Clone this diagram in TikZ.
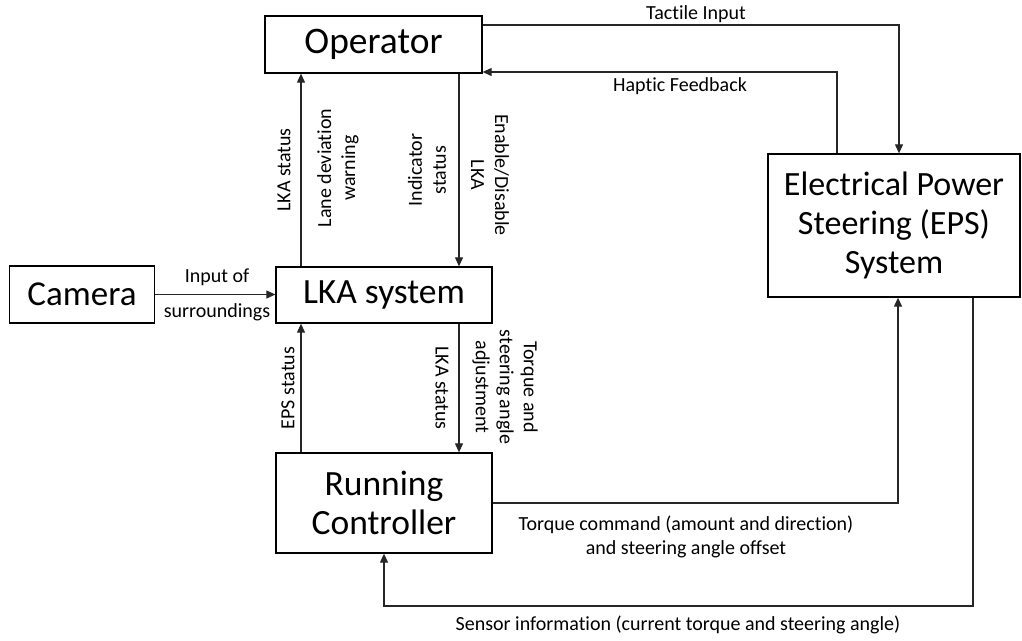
\documentclass[tikz,border=0pt]{standalone}
\usepackage{fontspec}
\setmainfont{Carlito}[Ligatures={NoCommon}]
\usetikzlibrary{arrows.meta}
\tikzset{
  blk/.style={draw=black, line width=1.3pt, rectangle, inner sep=0pt, align=center,
    font=\fontsize{35.5}{39.5}\selectfont},
  lbl/.style={inner sep=0pt, align=center, font=\fontsize{20}{24}\selectfont},
  arr/.style={draw=black!85, line width=1.1pt, -{Triangle[length=9pt,width=8pt]}},
  ln/.style={draw=black!85, line width=1.1pt}
}
\begin{document}
\begin{tikzpicture}[x=1pt,y=-1pt]
\useasboundingbox (0,0) rectangle (1022,640);
% blocks
\node[blk, minimum width=217pt, minimum height=57pt, font=\fontsize{37.5}{40}\selectfont] (op) at (373.5,44.5) {Operator};
\node[blk, minimum width=145pt, minimum height=57pt, font=\fontsize{35}{40}\selectfont] (cam) at (82,294.5) {Camera};
\node[blk, minimum width=216pt, minimum height=56pt] (lka) at (384,295) {LKA system};
\node[blk, minimum width=216pt, minimum height=100pt] (rc) at (384,503) {Running\\Controller};
\node[blk, minimum width=252pt, minimum height=143pt, font=\fontsize{34}{39}\selectfont] (eps) at (894,225.5) {Electrical Power\\Steering (EPS)\\System};
% helper coordinates
\coordinate (tac) at (899,25);
\coordinate (hap) at (837,72);
\coordinate (xl) at (301,0);
\coordinate (xr) at (459,0);
\coordinate (tq) at (898,0);
\coordinate (sen) at (973,0);
\coordinate (sb) at (384,606);
% connectors
\draw[arr] (op.east |- tac) -| (eps.north -| tac);
\draw[arr] (eps.north -| hap) |- (op.east |- hap);
\draw[arr] (lka.north -| xl) -- (op.south -| xl);
\draw[arr] (op.south -| xr) -- (lka.north -| xr);
\draw[arr] (cam.east) -- (lka.west |- cam.east);
\draw[arr] (rc.north -| xl) -- (lka.south -| xl);
\draw[arr] (lka.south -| xr) -- (rc.north -| xr);
\draw[arr] (rc.east) -| (eps.south -| tq);
\draw[arr] (eps.south -| sen) |- (sb) -- (rc.south -| sb);
% labels
\node[lbl] (ltac) at (696,14) {Tactile Input};
\node[lbl] (lhap) at (680,86) {Haptic Feedback};
\node[lbl] (lin1) at (217,277) {Input of};
\node[lbl] (lin2) at (217,312) {surroundings};
\node[lbl, rotate=90] (llka1) at (284,170) {LKA status};
\node[lbl, rotate=90] (llane) at (338,168) {Lane deviation\\warning};
\node[lbl, rotate=90] (lind) at (427,170) {Indicator\\status};
\node[lbl, rotate=-90] (len) at (490,175) {Enable/Disable\\LKA};
\node[lbl, rotate=90] (leps) at (288,388) {EPS status};
\node[lbl, rotate=-90] (llka2) at (442,388) {LKA status};
\node[lbl, rotate=-90] (ltsa) at (505,387) {Torque and\\steering angle\\adjustment};
\node[lbl] (ltc) at (686,537) {Torque command (amount and direction)\\and steering angle offset};
\node[lbl] (lsen) at (678,625) {Sensor information (current torque and steering angle)};
\end{tikzpicture}
\end{document}
